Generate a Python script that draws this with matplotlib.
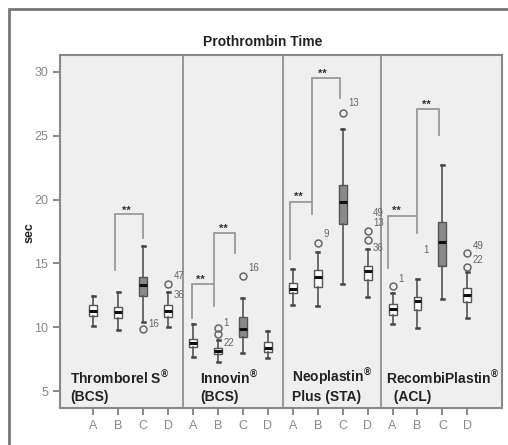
import matplotlib
matplotlib.use("Agg")
import matplotlib.pyplot as plt
from matplotlib.patches import Rectangle

plt.rcParams['font.family'] = ['Liberation Sans', 'DejaVu Sans']

# ---- data ----
title = "Prothrombin Time"
ylabel = "sec"
group_labels = ["A", "B", "C", "D"] * 4
panel_names = ["Thromborel S$^{\\mathregular{\u00ae}}$\n(BCS)",
               "Innovin$^{\\mathregular{\u00ae}}$\n(BCS)",
               "Neoplastin$^{\\mathregular{\u00ae}}$\nPlus (STA)",
               "RecombiPlastin$^{\\mathregular{\u00ae}}$\n  (ACL)"]

whislo = [10.06, 9.78, 10.43, 10.04,
          7.64, 7.30, 8.00, 7.56,
          11.74, 11.66, 13.39, 12.34,
          10.23, 9.91, 12.19, 10.70]
q1 = [10.90, 10.70, 12.45, 10.83,
      8.47, 7.90, 9.26, 8.08,
      12.66, 13.17, 18.09, 13.70,
      10.96, 11.35, 14.80, 12.00]
med = [11.30, 11.21, 13.30, 11.27,
       8.78, 8.16, 9.86, 8.40,
       13.02, 13.96, 19.84, 14.40,
       11.43, 12.08, 16.70, 12.52]
q3 = [11.74, 11.56, 13.96, 11.74,
      9.07, 8.34, 10.78, 8.82,
      13.44, 14.48, 21.14, 14.80,
      11.80, 12.39, 18.22, 13.05]
whishi = [12.45, 12.78, 16.39, 12.78,
          10.25, 9.00, 12.27, 9.73,
          14.54, 15.92, 25.50, 16.13,
          12.70, 13.78, 22.71, 14.30]
fliers = [[], [], [9.86], [13.36],
          [], [9.90, 9.50], [14.00], [],
          [], [16.62], [26.81], [17.56, 16.83],
          [13.26], [], [], [15.84, 14.70]]

# outlier case labels: (group index, y, text)
case_groups = [2, 3, 3, 5, 5, 6, 9, 10, 11, 11, 11, 12, 13, 15, 15]
case_y = [10.25, 14.00, 12.52, 10.35, 8.78, 14.66, 17.28, 27.55,
          18.97, 18.14, 16.18, 13.75, 16.05, 16.40, 15.27]
case_text = ["16", "47", "36", "1", "22", "16", "9", "13",
             "49", "13", "36", "1", "1", "49", "22"]

# significance brackets: polyline vertex lists, in group-index units
brackets = [
    ([0.87, 0.87, 1.97, 1.97], [14.48, 18.87, 18.87, 17.00]),
    ([3.95, 3.95, 4.84], [10.70, 13.39, 13.39]),
    ([4.84, 4.84, 5.68, 5.68], [11.66, 17.40, 17.40, 15.80]),
    ([7.89, 7.89, 8.78], [15.32, 19.84, 19.84]),
    ([8.78, 8.78, 9.90, 9.90], [18.87, 29.50, 29.50, 27.94]),
    ([11.83, 11.83, 12.97], [14.62, 18.74, 18.74]),
    ([12.97, 12.97, 13.88, 13.88], [17.36, 27.10, 27.10, 25.06]),
]
star_x = [1.31, 4.28, 5.20, 8.21, 9.20, 12.17, 13.37]
star_y = [19.15, 13.75, 17.70, 20.20, 29.85, 19.10, 27.45]

dividers = [3.6, 7.6, 11.53]
panel_label_x = [-0.92, 4.28, 7.96, 11.74]

# ---- figure ----
fig = plt.figure(figsize=(5.08, 4.45), dpi=100)
fig.patch.set_facecolor('white')
fig.patches.append(Rectangle((9 / 508, -0.1), 1.2, 1 - 9 / 445 + 0.1,
                             transform=fig.transFigure, fill=False,
                             edgecolor='#777777', linewidth=2.0))

ax = fig.add_axes([60 / 508, 1 - 408 / 445, 442 / 508, 353 / 445])
ax.set_facecolor('#efefef')

stats = []
for i in range(16):
    stats.append(dict(whislo=whislo[i], q1=q1[i], med=med[i], q3=q3[i],
                      whishi=whishi[i], fliers=fliers[i], label=group_labels[i]))

positions = list(range(16))
bp = ax.bxp(stats, positions=positions, widths=0.32, patch_artist=True,
            showfliers=True,
            boxprops=dict(edgecolor='#555555', linewidth=1.0),
            medianprops=dict(color='#111111', linewidth=2.2),
            whiskerprops=dict(color='#555555', linewidth=1.2),
            capprops=dict(color='#444444', linewidth=1.8),
            capwidths=0.12,
            flierprops=dict(marker='o', markersize=5, markerfacecolor='none',
                            markeredgecolor='#666666', markeredgewidth=1.1))
for i, box in enumerate(bp['boxes']):
    box.set_facecolor('#8a8a8a' if i % 4 == 2 else 'white')

for gx, gy, t in zip(case_groups, case_y, case_text):
    ax.text(gx + 0.22, gy, t, fontsize=7, color='#666666', va='center', ha='left')

for xs, ys in brackets:
    ax.plot(xs, ys, color='#999999', linewidth=1.3, solid_joinstyle='miter')
for sx, sy in zip(star_x, star_y):
    ax.text(sx, sy, "**", fontsize=8, fontweight='bold', color='#333333',
            ha='center', va='center')

for d in dividers:
    ax.axvline(d, color='#888888', linewidth=1.2)

for px, name in zip(panel_label_x, panel_names):
    ax.text(px, 3.95, name, fontsize=10, fontweight='bold', color='#222222',
            ha='left', va='bottom', linespacing=1.3)

ax.set_xlim(-1.34, 16.39)
ax.set_ylim(3.67, 31.33)
ax.set_yticks([5, 10, 15, 20, 25, 30])
ax.set_yticklabels(["5", "10", "15", "20", "25", "30"])
ax.set_xticks(positions)
ax.set_xticklabels(group_labels)
ax.tick_params(axis='both', colors='#777777', labelcolor='#888888',
               labelsize=9, length=5, width=1.2, direction='out')
for s in ax.spines.values():
    s.set_color('#888888')
    s.set_linewidth(1.5)

fig.text(263 / 508, 1 - 42 / 445, title, fontsize=10, fontweight='bold',
         color='#222222', ha='center', va='center')
fig.text(30 / 508, 1 - 233 / 445, ylabel, fontsize=9, fontweight='bold',
         color='#222222', ha='center', va='center', rotation=90)

fig.savefig("out.png", dpi=100, facecolor='white')
